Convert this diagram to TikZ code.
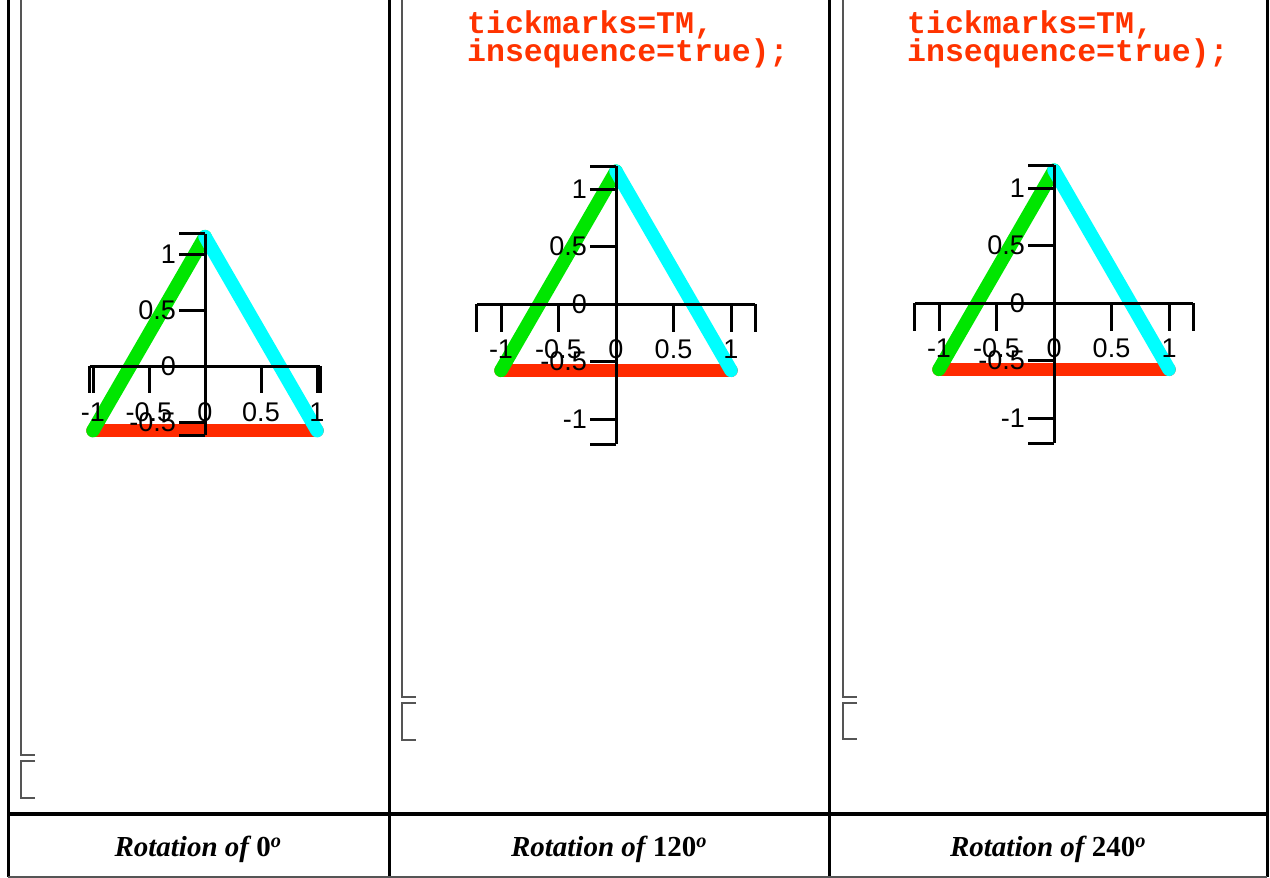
\documentclass[tikz,border=0pt]{standalone}
\usepackage{fontspec}
\usetikzlibrary{positioning, calc}
\newfontfamily\axisfont{Liberation Sans}
\newfontfamily\codefont{Liberation Mono}
\newfontfamily\capfont{Liberation Serif}
\definecolor{trired}{HTML}{FF2A00}
\definecolor{trigreen}{HTML}{00E600}
\definecolor{tricyan}{HTML}{00FFFF}
\definecolor{codered}{HTML}{FF3300}
\definecolor{guidegray}{HTML}{555555}

\tikzset{
  frame/.style={line width=3pt, black},
  guide/.style={line width=1.4pt, guidegray},
  axis/.style={line width=3pt, black},
  edge/.style={line width=13.5pt, line cap=round},
  ticklabel/.style={font=\axisfont\fontsize{27}{27}\selectfont, inner sep=0pt},
  codeline/.style={font=\codefont\bfseries\fontsize{31.5}{31.5}\selectfont,
    text=codered, anchor=base west, inner sep=0pt},
  caption/.style={font=\capfont\bfseries\itshape\fontsize{29}{29}\selectfont,
    inner sep=0pt}
}

\begin{document}
\begin{tikzpicture}[x=1pt, y=-1pt]
  \useasboundingbox (0,0) rectangle (1270,878);

  % table rules
  \draw[frame] (8,0) -- (8,877);
  \draw[frame] (389,0) -- (389,877);
  \draw[frame] (829,0) -- (829,877);
  \draw[frame] (1267,0) -- (1267,877);
  \draw[frame, line width=3.5pt] (8,814) -- (1267,814);
  \draw[guide] (8,877) -- (1267,877);

  % thin guides
  \foreach \gx/\gy/\gz in {21/755/798, 402/697/740, 843/697/739} {
    \draw[guide] (\gx,0) -- (\gx,\gy) -- ++(14,0);
    \draw[guide] (\gx+14,\gy+6) -- (\gx,\gy+6) -- (\gx,\gz) -- ++(14,0);
  }

  % code text
  \node[codeline] (code1a) at (467,33) {tickmarks=TM,};
  \node[codeline] (code1b) at (467,61) {insequence=true);};
  \node[codeline] (code2a) at (907,33) {tickmarks=TM,};
  \node[codeline] (code2b) at (907,61) {insequence=true);};

  % panel 0 degrees
  \begin{scope}[xshift=205pt, yshift=-366pt, x=112pt, y=112pt]
    \coordinate (p0-a) at (-1,-0.577);
    \coordinate (p0-b) at (1,-0.577);
    \coordinate (p0-c) at (0,1.155);
    \draw[edge, trired] (p0-a) -- (p0-b);
    \draw[edge, trigreen] (p0-a) -- (p0-c);
    \draw[edge, tricyan] (p0-c) -- (p0-b);
    \coordinate (p0-xl) at (-1.03,0);
    \coordinate (p0-xr) at (1.03,0);
    \coordinate (p0-yb) at (0,-0.62);
    \coordinate (p0-yt) at (0,1.18);
    \draw[axis] (p0-xl) -- (p0-xr);
    \draw[axis] (p0-yb) -- (p0-yt);
    \foreach \x in {-1.03,-1,-0.5,0,0.5,1,1.03}
      \draw[axis] (\x,0) -- ++(0pt,-27pt);
    \foreach \y in {-0.62,-0.5,0,0.5,1,1.18}
      \draw[axis] (0,\y) -- ++(-26pt,0pt);
    \foreach \x [count=\i] in {-1,-0.5,0,0.5,1}
      \node[ticklabel, yshift=-46pt] (p0-xt\i) at (\x,0) {\x};
    \foreach \y [count=\i] in {-0.5,0,0.5,1}
      \node[ticklabel, anchor=east, xshift=-29pt] (p0-yt\i) at (0,\y) {\y};
  \end{scope}

  % panel 120 degrees
  \begin{scope}[xshift=616pt, yshift=-304pt, x=115pt, y=115pt]
    \coordinate (p1-a) at (-1,-0.577);
    \coordinate (p1-b) at (1,-0.577);
    \coordinate (p1-c) at (0,1.155);
    \draw[edge, trired] (p1-a) -- (p1-b);
    \draw[edge, trigreen] (p1-a) -- (p1-c);
    \draw[edge, tricyan] (p1-c) -- (p1-b);
    \coordinate (p1-xl) at (-1.21,0);
    \coordinate (p1-xr) at (1.21,0);
    \coordinate (p1-yb) at (0,-1.22);
    \coordinate (p1-yt) at (0,1.2);
    \draw[axis] (p1-xl) -- (p1-xr);
    \draw[axis] (p1-yb) -- (p1-yt);
    \foreach \x in {-1.21,-1,-0.5,0,0.5,1,1.21}
      \draw[axis] (\x,0) -- ++(0pt,-28pt);
    \foreach \y in {-1.22,-1,-0.5,0,0.5,1,1.2}
      \draw[axis] (0,\y) -- ++(-26pt,0pt);
    \foreach \x [count=\i] in {-1,-0.5,0,0.5,1}
      \node[ticklabel, yshift=-45pt] (p1-xt\i) at (\x,0) {\x};
    \foreach \y [count=\i] in {-1,-0.5,0,0.5,1}
      \node[ticklabel, anchor=east, xshift=-29pt] (p1-yt\i) at (0,\y) {\y};
  \end{scope}

  % panel 240 degrees
  \begin{scope}[xshift=1054pt, yshift=-303pt, x=115pt, y=115pt]
    \coordinate (p2-a) at (-1,-0.577);
    \coordinate (p2-b) at (1,-0.577);
    \coordinate (p2-c) at (0,1.155);
    \draw[edge, trired] (p2-a) -- (p2-b);
    \draw[edge, trigreen] (p2-a) -- (p2-c);
    \draw[edge, tricyan] (p2-c) -- (p2-b);
    \coordinate (p2-xl) at (-1.21,0);
    \coordinate (p2-xr) at (1.21,0);
    \coordinate (p2-yb) at (0,-1.22);
    \coordinate (p2-yt) at (0,1.2);
    \draw[axis] (p2-xl) -- (p2-xr);
    \draw[axis] (p2-yb) -- (p2-yt);
    \foreach \x in {-1.21,-1,-0.5,0,0.5,1,1.21}
      \draw[axis] (\x,0) -- ++(0pt,-28pt);
    \foreach \y in {-1.22,-1,-0.5,0,0.5,1,1.2}
      \draw[axis] (0,\y) -- ++(-26pt,0pt);
    \foreach \x [count=\i] in {-1,-0.5,0,0.5,1}
      \node[ticklabel, yshift=-45pt] (p2-xt\i) at (\x,0) {\x};
    \foreach \y [count=\i] in {-1,-0.5,0,0.5,1}
      \node[ticklabel, anchor=east, xshift=-29pt] (p2-yt\i) at (0,\y) {\y};
  \end{scope}

  % captions
  \node[caption] (cap0) at (198,849) {Rotation of {\upshape 0}\textsuperscript{o}};
  \node[caption] (cap1) at (609,849) {Rotation of {\upshape 120}\textsuperscript{o}};
  \node[caption] (cap2) at (1048,849) {Rotation of {\upshape 240}\textsuperscript{o}};
\end{tikzpicture}
\end{document}
